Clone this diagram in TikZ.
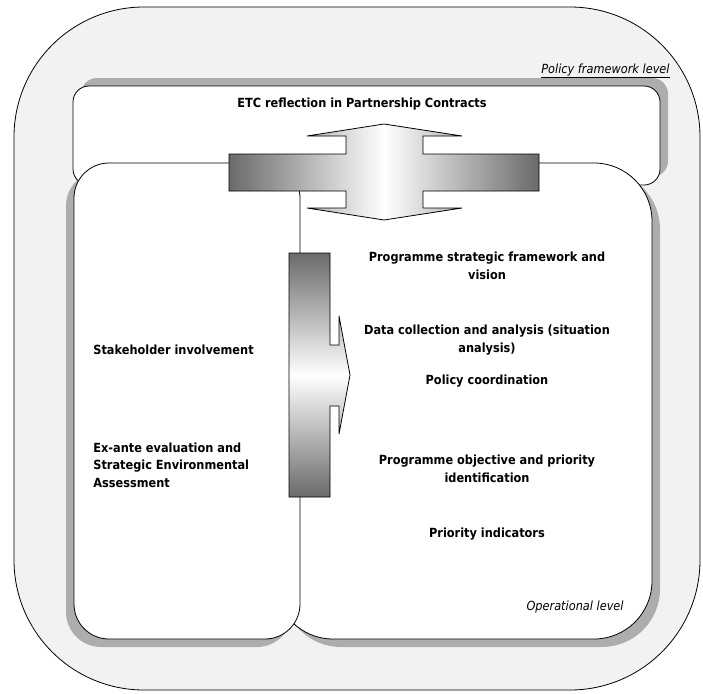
\documentclass[tikz,border=0pt]{standalone}
\usepackage{fontspec}
\setmainfont{DejaVu Sans Condensed}
\definecolor{bggray}{HTML}{F2F2F2}
\definecolor{shadowgray}{HTML}{ADADAD}
\definecolor{bargray}{HTML}{6A6A6A}

\begin{document}
\begin{tikzpicture}[x=1pt, y=-1pt, line width=0.8pt,
  panel/.style={draw=black, fill=white},
  shadowbox/.style={fill=shadowgray},
  txt/.style={font=\fontsize{12.6}{17.5}\selectfont\bfseries, align=center, inner sep=0pt},
  levelname/.style={font=\fontsize{12.6}{17.5}\selectfont\itshape, inner sep=0pt}]
\useasboundingbox (0,0) rectangle (703,693);

\draw[fill=bggray, rounded corners=130] (14,7) rectangle (700,690);

\fill[shadowbox, rounded corners=16] (81,78) rectangle (668,177);
\fill[shadowbox, rounded corners=58] (283,171) rectangle (660,647);
\fill[shadowbox, rounded corners=35] (66,171) rectangle (292,647);

\draw[panel, rounded corners=16] (73,86) rectangle (660,185);
\draw[panel, rounded corners=58] (275,163) rectangle (652,639);
\draw[panel, rounded corners=35] (74,163) rectangle (300,639);

\draw[left color=bargray, right color=bargray, middle color=white]
  (229,154) -- (346,154) -- (346,136) -- (307,136) -- (384,124) -- (462,136)
  -- (423,136) -- (423,154) -- (539,154) -- (539,191) -- (423,191) -- (423,208)
  -- (462,208) -- (384,220) -- (307,208) -- (346,208) -- (346,191) -- (229,191) -- cycle;
\draw[top color=bargray, bottom color=bargray, middle color=white]
  (289,253) -- (330,253) -- (330,345) -- (339,345) -- (339,316) -- (350,375)
  -- (339,434) -- (339,406) -- (330,406) -- (330,497) -- (289,497) -- cycle;

\node[levelname, anchor=base east] (policy) at (670,73) {\underline{Policy framework level}};
\node[txt, anchor=base] (etc) at (362,107) {ETC reflection in Partnership Contracts};

\node[txt, anchor=base] (vision) at (487,279) {Programme strategic framework and\\vision};
\node[txt, anchor=base] (data) at (487,352) {Data collection and analysis (situation\\analysis)};
\node[txt, anchor=base] (coord) at (487,384) {Policy coordination};
\node[txt, anchor=base] (objective) at (487,482) {Programme objective and priority\\identification};
\node[txt, anchor=base] (indicators) at (487,537) {Priority indicators};
\node[levelname, anchor=base east] (operational) at (624,610) {Operational level};

\node[txt, anchor=base west] (stakeholder) at (93,354) {Stakeholder involvement};
\node[txt, anchor=base west, align=left] (exante) at (93,487) {Ex-ante evaluation and\\Strategic Environmental\\Assessment};
\end{tikzpicture}
\end{document}
